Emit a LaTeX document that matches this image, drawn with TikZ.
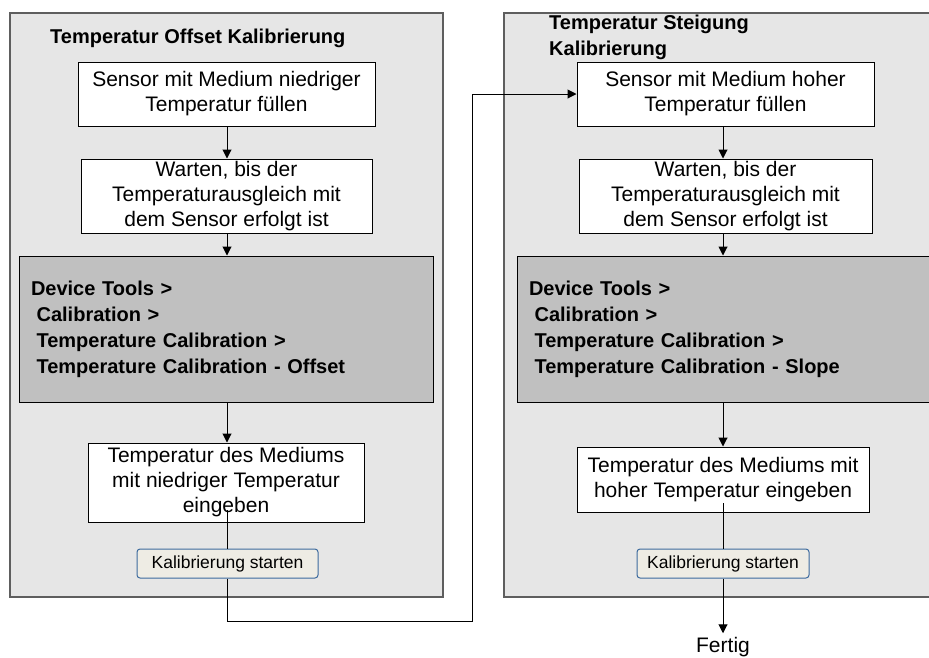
\documentclass[tikz,border=0pt]{standalone}
\usepackage{fontspec}
\setmainfont{Liberation Sans}
\usetikzlibrary{arrows.meta}
\definecolor{panelfill}{HTML}{E6E6E6}
\definecolor{panelline}{HTML}{5E5E5E}
\definecolor{grayfill}{HTML}{C0C0C0}
\definecolor{btnline}{HTML}{3C6A9E}
\definecolor{btnfill}{HTML}{EEECE4}
\begin{document}
\begin{tikzpicture}[x=1pt,y=-1pt,
  panel/.style={draw=panelline,fill=panelfill,line width=1.4pt},
  stepbox/.style={draw=black,fill=white,line width=1pt,align=center,inner sep=2pt,
    font=\fontsize{21}{25}\selectfont},
  graybox/.style={draw=black,fill=grayfill,line width=1pt,align=left,inner xsep=12pt,inner ysep=0pt,
    font=\fontsize{20}{26}\selectfont\bfseries},
  titletext/.style={inner sep=0pt,align=left,font=\fontsize{20}{26}\selectfont\bfseries},
  btn/.style={draw=btnline,fill=btnfill,line width=1pt,rounded corners=3pt,inner sep=0pt,
    minimum height=29pt,font=\fontsize{17.5}{20}\selectfont},
  conn/.style={draw=black,line width=1pt},
  arr/.style={conn,-{Triangle[length=9pt,width=9pt]}},
  plaintext/.style={font=\fontsize{21}{25}\selectfont}
]
\useasboundingbox (0,0) rectangle (929,657);
\clip (0,0) rectangle (929,657);
\fill[white] (0,0) rectangle (929,657);

% panels
\draw[panel] (10,13) rectangle (443,597);
\draw[panel] (504,13) rectangle (945,597);

% left column
\node[titletext,anchor=base west] (LT) at (50,43) {Temperatur Offset Kalibrierung};
\node[stepbox,minimum width=297pt,minimum height=64pt] (L1) at (226.5,94)
  {Sensor mit Medium niedriger\\Temperatur füllen};
\node[stepbox,minimum width=291pt,minimum height=74pt] (L2) at (226.5,196)
  {Warten, bis der\\Temperaturausgleich mit\\dem Sensor erfolgt ist};
\node[graybox,text width=390pt,minimum height=146pt] (LG) at (226,329)
  {Device Tools >\\\hspace*{5.6pt}Calibration >\\\hspace*{5.6pt}Temperature Calibration >\\\hspace*{5.6pt}Temperature Calibration - Offset};
\node[stepbox,minimum width=276pt,minimum height=79pt] (L4) at (226,482.5)
  {Temperatur des Mediums\\mit niedriger Temperatur\\eingeben};
\node[btn,minimum width=181pt] (LB) at (227.5,563.5) {Kalibrierung starten};

% right column
\node[titletext,anchor=north west] (RT) at (549,15) {Temperatur Steigung\\Kalibrierung};
\node[stepbox,minimum width=297pt,minimum height=64pt] (R1) at (725.5,94)
  {Sensor mit Medium hoher\\Temperatur füllen};
\node[stepbox,minimum width=293pt,minimum height=74pt] (R2) at (725.5,196)
  {Warten, bis der\\Temperaturausgleich mit\\dem Sensor erfolgt ist};
\node[graybox,text width=406pt,minimum height=146pt] (RG) at (732,329)
  {Device Tools >\\\hspace*{5.6pt}Calibration >\\\hspace*{5.6pt}Temperature Calibration >\\\hspace*{5.6pt}Temperature Calibration - Slope};
\node[stepbox,minimum width=292pt,minimum height=65pt] (R4) at (723,479.5)
  {Temperatur des Mediums mit\\hoher Temperatur eingeben};
\node[btn,minimum width=172pt] (RB) at (723,563.5) {Kalibrierung starten};
\node[plaintext,anchor=base] (F) at (723,652) {Fertig};

% helper coordinates
\coordinate (lc) at (227,0);
\coordinate (rc) at (723,0);
\coordinate (L4in) at (227,510);
\coordinate (R4in) at (723,503);
\coordinate (c1) at (227,621);
\coordinate (c2) at (472,621);

% left connectors
\draw[arr] (L1.south -| lc) -- (L2.north -| lc);
\draw[arr] (L2.south -| lc) -- (LG.north -| lc);
\draw[arr] (LG.south -| lc) -- (L4.north -| lc);
\draw[conn] (L4in) -- (LB.north -| lc);
\draw[arr] (LB.south -| lc) -- (c1) -- (c2) |- (R1.west);

% right connectors
\draw[arr] (R1.south -| rc) -- (R2.north -| rc);
\draw[arr] (R2.south -| rc) -- (RG.north -| rc);
\draw[arr] (RG.south -| rc) -- (R4.north -| rc);
\draw[conn] (R4in) -- (RB.north -| rc);
\draw[arr] (RB.south -| rc) -- (F.north);
\end{tikzpicture}
\end{document}
